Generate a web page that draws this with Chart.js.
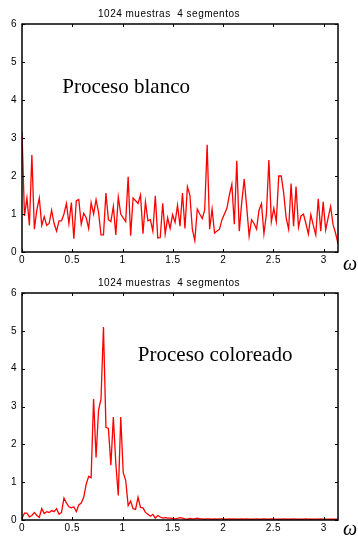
<!DOCTYPE html>
<html>
<head>
<meta charset="utf-8">
<script src="https://cdn.jsdelivr.net/npm/chart.js@4/dist/chart.umd.min.js"></script>
<style>
  html, body { margin: 0; padding: 0; background: #fff; }
  #wrap { position: relative; width: 358px; height: 539px; overflow: hidden; }
  canvas { position: absolute; left: 0; }
  #top { top: 0; }
  #bottom { top: 269px; }
</style>
</head>
<body>
<div id="wrap">
  <canvas id="top" width="358" height="280"></canvas>
  <canvas id="bottom" width="358" height="270"></canvas>
</div>
<script>
// Welch PSD estimates, 129 bins from 0 to pi
const blanco = [
  3.15, 0.95, 1.42, 0.7, 2.55, 0.6, 1.1, 1.42, 0.7, 0.93,
  0.7, 0.75, 1.1, 0.75, 0.55, 0.82, 0.82, 1.0, 1.28, 0.75,
  1.3, 0.35, 1.35, 1.38, 0.73, 1.02, 0.9, 0.62, 1.3, 1.0,
  1.38, 1.05, 0.45, 0.45, 1.55, 0.85, 0.8, 1.2, 0.45, 1.45,
  1.0, 0.9, 0.8, 1.98, 0.43, 1.42, 1.35, 1.28, 1.5, 0.48,
  1.32, 0.82, 0.85, 0.55, 1.48, 0.37, 0.38, 1.28, 0.47, 0.9,
  0.62, 0.98, 0.78, 1.23, 0.68, 1.55, 0.62, 1.72, 1.5, 0.6,
  0.3, 1.13, 1.0, 0.88, 1.1, 2.82, 0.6, 1.13, 0.5, 0.55,
  0.6, 0.85, 1.0, 1.15, 1.5, 1.78, 0.73, 2.4, 0.55, 1.3,
  1.92, 1.2, 0.42, 0.85, 0.75, 0.6, 1.1, 1.27, 0.48, 1.0,
  2.42, 0.8, 1.15, 0.8, 2.0, 2.0, 1.55, 0.9, 0.6, 1.8,
  0.68, 1.72, 0.65, 0.95, 1.0, 0.75, 0.47, 0.98, 0.7, 0.45,
  1.4, 0.55, 1.32, 0.58, 0.9, 1.2, 0.72, 0.5, 0.22
];

const coloreado = [
  0.05, 0.18, 0.18, 0.08, 0.12, 0.2, 0.12, 0.07, 0.3, 0.17,
  0.22, 0.2, 0.25, 0.22, 0.3, 0.15, 0.2, 0.58, 0.45, 0.35,
  0.32, 0.35, 0.22, 0.4, 0.45, 0.6, 0.95, 1.15, 1.12, 3.2,
  1.65, 2.9, 3.2, 5.1, 2.45, 2.42, 1.45, 2.72, 1.5, 0.65,
  2.72, 1.25, 1.05, 0.38, 0.5, 0.3, 0.28, 0.6, 0.33, 0.32,
  0.2, 0.15, 0.1, 0.15, 0.05, 0.12, 0.08, 0.05, 0.06, 0.05,
  0.05, 0.04, 0.03, 0.04, 0.06, 0.05, 0.03, 0.02, 0.04, 0.03,
  0.03, 0.05, 0.03, 0.03, 0.02, 0.03, 0.03, 0.02, 0.03, 0.02,
  0.03, 0.03, 0.02, 0.02, 0.03, 0.02, 0.03, 0.02, 0.02, 0.03,
  0.02, 0.03, 0.02, 0.02, 0.02, 0.03, 0.02, 0.02, 0.03, 0.02,
  0.02, 0.03, 0.02, 0.02, 0.02, 0.02, 0.03, 0.02, 0.02, 0.02,
  0.03, 0.02, 0.02, 0.02, 0.02, 0.03, 0.02, 0.02, 0.02, 0.02,
  0.02, 0.03, 0.02, 0.02, 0.02, 0.02, 0.02, 0.02, 0.02
];

const xTicks = [0, 0.5, 1, 1.5, 2, 2.5, 3];
const yTicks = [0, 1, 2, 3, 4, 5, 6];
const titleText = "1024 muestras  4 segmentos";

const freqs = blanco.map((_, i) => (i * Math.PI) / 128);

const tickFont = { family: "Liberation Sans", size: 10 };

const framePlugin = {
  id: "frame",
  beforeDraw(chart) {
    chart.ctx.letterSpacing = "0.5px";
  },
  afterDatasetsDraw(chart, args, opts) {
    const { ctx, chartArea: a, scales } = chart;
    const x = scales.x;
    const y = scales.y;
    ctx.save();
    ctx.strokeStyle = "#000";
    ctx.lineWidth = 1.5;
    ctx.strokeRect(a.left, a.top, a.right - a.left, a.bottom - a.top);

    // inward ticks on all four sides
    ctx.lineWidth = 1;
    ctx.beginPath();
    xTicks.forEach((v) => {
      const px = Math.round(x.getPixelForValue(v)) + 0.5;
      ctx.moveTo(px, a.bottom);
      ctx.lineTo(px, a.bottom - 3);
      ctx.moveTo(px, a.top);
      ctx.lineTo(px, a.top + 3);
    });
    yTicks.forEach((v) => {
      const py = Math.round(y.getPixelForValue(v)) + 0.5;
      ctx.moveTo(a.left, py);
      ctx.lineTo(a.left + 3, py);
      ctx.moveTo(a.right, py);
      ctx.lineTo(a.right - 3, py);
    });
    ctx.stroke();

    ctx.letterSpacing = "0px";
    ctx.fillStyle = "#000";
    ctx.textBaseline = "alphabetic";
    ctx.textAlign = "left";
    ctx.font = '21px "Liberation Serif"';
    ctx.fillText(opts.label, x.getPixelForValue(opts.labelX), y.getPixelForValue(opts.labelY));

    ctx.font = 'italic 20px "Liberation Serif"';
    ctx.fillText("\u03c9", a.right + 5, a.bottom + opts.omegaDy);
    ctx.restore();
  },
};

function makeChart(id, values, label, labelX, labelY, xAxisHeight, omegaDy) {
  const ctx = document.getElementById(id).getContext("2d");
  return new Chart(ctx, {
    type: "line",
    data: {
      datasets: [
        {
          data: values.map((v, i) => ({ x: freqs[i], y: v })),
          borderColor: "#ff0000",
          borderWidth: 1.3,
          pointRadius: 0,
          tension: 0,
          fill: false,
        },
      ],
    },
    options: {
      responsive: false,
      animation: false,
      layout: { padding: { left: 0, right: 20, top: 0, bottom: 0 } },
      scales: {
        x: {
          type: "linear",
          min: 0,
          max: Math.PI,
          afterBuildTicks: (scale) => {
            scale.ticks = xTicks.map((v) => ({ value: v }));
          },
          afterFit: (scale) => {
            scale.height = xAxisHeight;
          },
          ticks: {
            autoSkip: false,
            maxRotation: 0,
            padding: 2,
            color: "#000",
            font: tickFont,
            callback: (v) => String(v),
          },
          grid: { display: false, drawTicks: false },
          border: { display: false },
        },
        y: {
          min: 0,
          max: 6,
          afterBuildTicks: (scale) => {
            scale.ticks = yTicks.map((v) => ({ value: v }));
          },
          afterFit: (scale) => {
            scale.width = 22;
          },
          ticks: {
            padding: 5,
            color: "#000",
            font: tickFont,
          },
          grid: { display: false, drawTicks: false },
          border: { display: false },
        },
      },
      plugins: {
        legend: { display: false },
        tooltip: { enabled: false },
        title: {
          display: true,
          text: titleText,
          color: "#000",
          font: { family: "Liberation Sans", size: 10, weight: "normal" },
          padding: { top: 8, bottom: 4 },
        },
        frame: { label, labelX, labelY, omegaDy },
      },
    },
    plugins: [framePlugin],
  });
}

makeChart("top", blanco, "Proceso blanco", 0.4, 4.19, 28, 18);
makeChart("bottom", coloreado, "Proceso coloreado", 1.152, 4.19, 19, 15);
</script>
</body>
</html>
